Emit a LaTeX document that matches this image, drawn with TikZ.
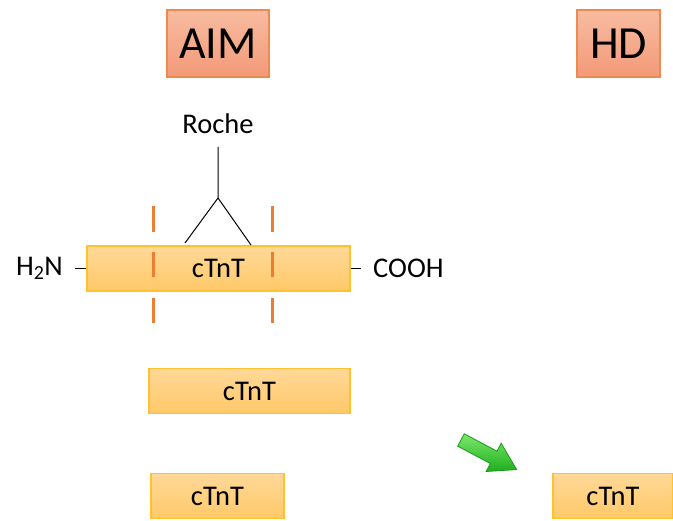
\documentclass[tikz,border=0pt]{standalone}
\usepackage{fontspec}
\setmainfont{Carlito}
\begin{document}
\begin{tikzpicture}[x=1pt,y=-1pt,
  titlebox/.style={draw=tbord,line width=1.2pt,top color=ttop,bottom color=tbot,minimum width=#1,minimum height=67pt,inner sep=0pt,font=\fontsize{46}{50}\selectfont},
  ctbox/.style={draw=cbord,line width=1.2pt,top color=ctop,bottom color=cbot,minimum width=#1,minimum height=45pt,inner sep=0pt,font=\fontsize{28.5}{32}\selectfont},
  lbl/.style={inner sep=0pt,font=\fontsize{28.5}{32}\selectfont},
  cutmark/.style={draw=cutc,line width=3pt},
  bond/.style={draw=black,line width=1pt}]
\definecolor{tbord}{HTML}{EE8A4E}
\definecolor{ttop}{HTML}{F8BBA0}
\definecolor{tbot}{HTML}{F29A78}
\definecolor{cbord}{HTML}{FFC22E}
\definecolor{ctop}{HTML}{FFD898}
\definecolor{cbot}{HTML}{FFC968}
\definecolor{cutc}{HTML}{ED7D31}
\definecolor{gtop}{HTML}{7BE86B}
\definecolor{gbot}{HTML}{1FAE1F}
\definecolor{gbord}{HTML}{189A18}
\useasboundingbox (0,0) rectangle (673,521);

\node[titlebox=102pt] (aim) at (218,43.5) {AIM};
\node[titlebox=83pt] (hd) at (618.5,43.5) {HD};

\node[ctbox=263pt] (main) at (218.5,268.5) {cTnT};
\node[ctbox=201pt] (frag1) at (249.5,391) {cTnT};
\node[ctbox=133pt] (frag2) at (217.5,496) {cTnT};
\node[ctbox=120pt] (frag3) at (613,496) {cTnT};

\node[lbl,anchor=east] (nterm) at (63,268.5) {H\textsubscript{2}N};
\node[lbl,anchor=west] (cterm) at (373,268.5) {COOH};
\node[lbl] (roche) at (218,124) {Roche};

\coordinate (stemtop) at (218,147);
\coordinate (fork) at (218,198);
\coordinate (armL) at (185,243);
\coordinate (armR) at (251,245);
\draw[bond] (stemtop) -- (fork) -- (armL);
\draw[bond] (fork) -- (armR);

\coordinate (nlink) at (75,268.5);
\coordinate (clink) at (361,268.5);
\draw[bond] (nlink) -- (main.west |- nlink);
\draw[bond] (main.east |- clink) -- (clink);

\foreach \xx in {153,272}{
  \draw[cutmark] (\xx,206) -- (\xx,232);
  \draw[cutmark] (\xx,252) -- (\xx,277);
  \draw[cutmark] (\xx,298) -- (\xx,323);
}

\begin{scope}[shift={(461,440)},rotate=-28]
  \shade[draw=gbord,line width=0.8pt,top color=gtop,bottom color=gbot,shading angle=0]
    (0,-7) -- (37,-7) -- (37,-16) -- (63,0) -- (37,16) -- (37,7) -- (0,7) -- cycle;
\end{scope}
\end{tikzpicture}
\end{document}
